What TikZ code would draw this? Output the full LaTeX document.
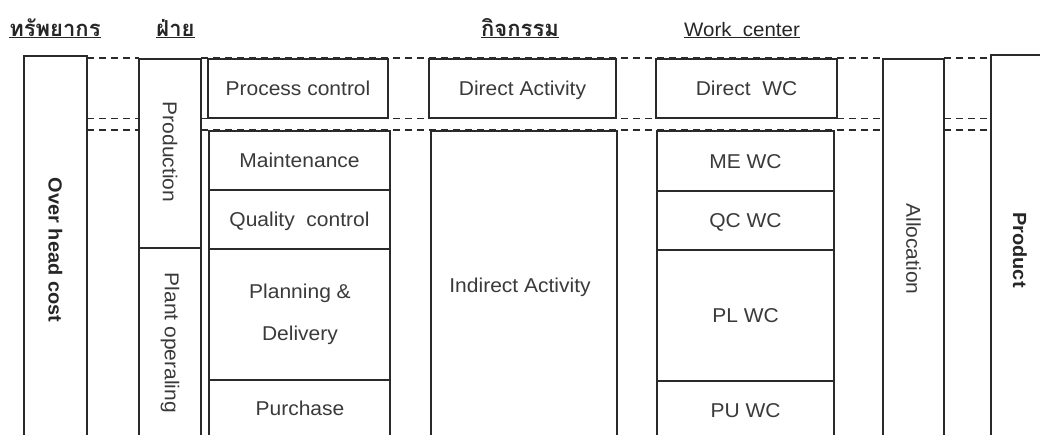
\documentclass[tikz,border=0pt]{standalone}
\usepackage{fontspec}
\setmainfont[FakeStretch=1.05]{Liberation Sans}
\newfontfamily\thaifont[Script=Thai]{Loma}
\definecolor{ln}{HTML}{2A2A2A}
\definecolor{tx}{HTML}{3A3A3A}
\newcommand\cell[6]{\node[cellbox, minimum width={#4-#2}, minimum height={#5-#3}] (#1) at ({(#2+#4)/2},{(#3+#5)/2}) {#6};}
\begin{document}
\begin{tikzpicture}[x=1pt,y=-1pt,
  cellbox/.style={draw=ln, line width=1.4pt, fill=white, inner sep=0pt, outer sep=0pt,
    text=tx, font=\fontsize{20}{24}\selectfont, text height=14pt, text depth=0pt},
  txt/.style={text=tx, font=\fontsize{20}{24}\selectfont, inner sep=0pt},
  vlabel/.style={txt, rotate=-90},
  head/.style={text=black!85, inner sep=0pt, anchor=base},
  dashln/.style={draw=ln, line width=1.4pt, dash pattern=on 7pt off 5pt}]
\useasboundingbox (0,0) rectangle (1040,434);
\clip (0,0) rectangle (1040,434);
% headers
\node[head, font=\thaifont\bfseries\fontsize{22}{26}\selectfont] (h1) at (55,36) {\underline{ทรัพยากร}};
\node[head, font=\thaifont\bfseries\fontsize{22}{26}\selectfont] (h2) at (175.5,36) {\underline{ฝ่าย}};
\node[head, font=\thaifont\bfseries\fontsize{22}{26}\selectfont] (h3) at (520,36) {\underline{กิจกรรม}};
\node[head, font=\fontsize{19.5}{23}\selectfont] (h4) at (742,36) {\underline{Work~ center}};
% boxes
\cell{oh}{24}{56}{87}{470}{}
\node[vlabel, font=\bfseries\fontsize{19}{23}\selectfont, text=black!85] (ohT) at (55.5,250) {Over head cost};
\cell{pd}{139}{59}{201}{248}{}
\node[vlabel] (pdT) at (170,152) {Production};
\cell{po}{139}{248}{201}{470}{}
\node[vlabel] (poT) at (170,343) {Plant operaling};
\cell{pc}{208}{59}{388}{118}{Process control}
\cell{mt}{209}{131}{390}{190}{Maintenance}
\cell{qc}{209}{190}{390}{249}{Quality~ control}
\cell{pl}{209}{249}{390}{380}{}
\node[txt, align=center] (plT) at (300,314) {Planning \&\\[18pt]Delivery};
\cell{pu}{209}{380}{390}{470}{}
\node[txt, text height=14pt, text depth=0pt] (puT) at (300,408) {Purchase};
\cell{da}{429}{59}{616}{118}{Direct Activity}
\cell{ia}{431}{131}{617}{470}{}
\node[txt, text height=14pt, text depth=0pt] (iaT) at (520,285) {Indirect Activity};
\cell{dw}{656}{59}{837}{118}{Direct~ WC}
\cell{me}{657}{131}{834}{191}{ME WC}
\cell{qw}{657}{191}{834}{250}{QC WC}
\cell{plw}{657}{250}{834}{381}{PL WC}
\cell{puw}{657}{381}{834}{470}{}
\node[txt, text height=14pt, text depth=0pt] (puwT) at (745.5,410) {PU WC};
\cell{al}{883}{59}{944}{470}{}
\node[vlabel] (alT) at (913.5,249) {Allocation};
\cell{pr}{991}{55}{1080}{470}{}
\node[vlabel, font=\bfseries\fontsize{19}{23}\selectfont, text=black!85] (prT) at (1020,250) {Product};
% dashed guide lines
\foreach \yy in {58,118.5,130}{
  \draw[dashln] (oh.east |- 0,\yy) -- (pd.west |- 0,\yy);
  \draw[dashln] (pd.east |- 0,\yy) -- (al.west |- 0,\yy);
  \draw[dashln] (al.east |- 0,\yy) -- (pr.west |- 0,\yy);
}
\end{tikzpicture}
\end{document}
